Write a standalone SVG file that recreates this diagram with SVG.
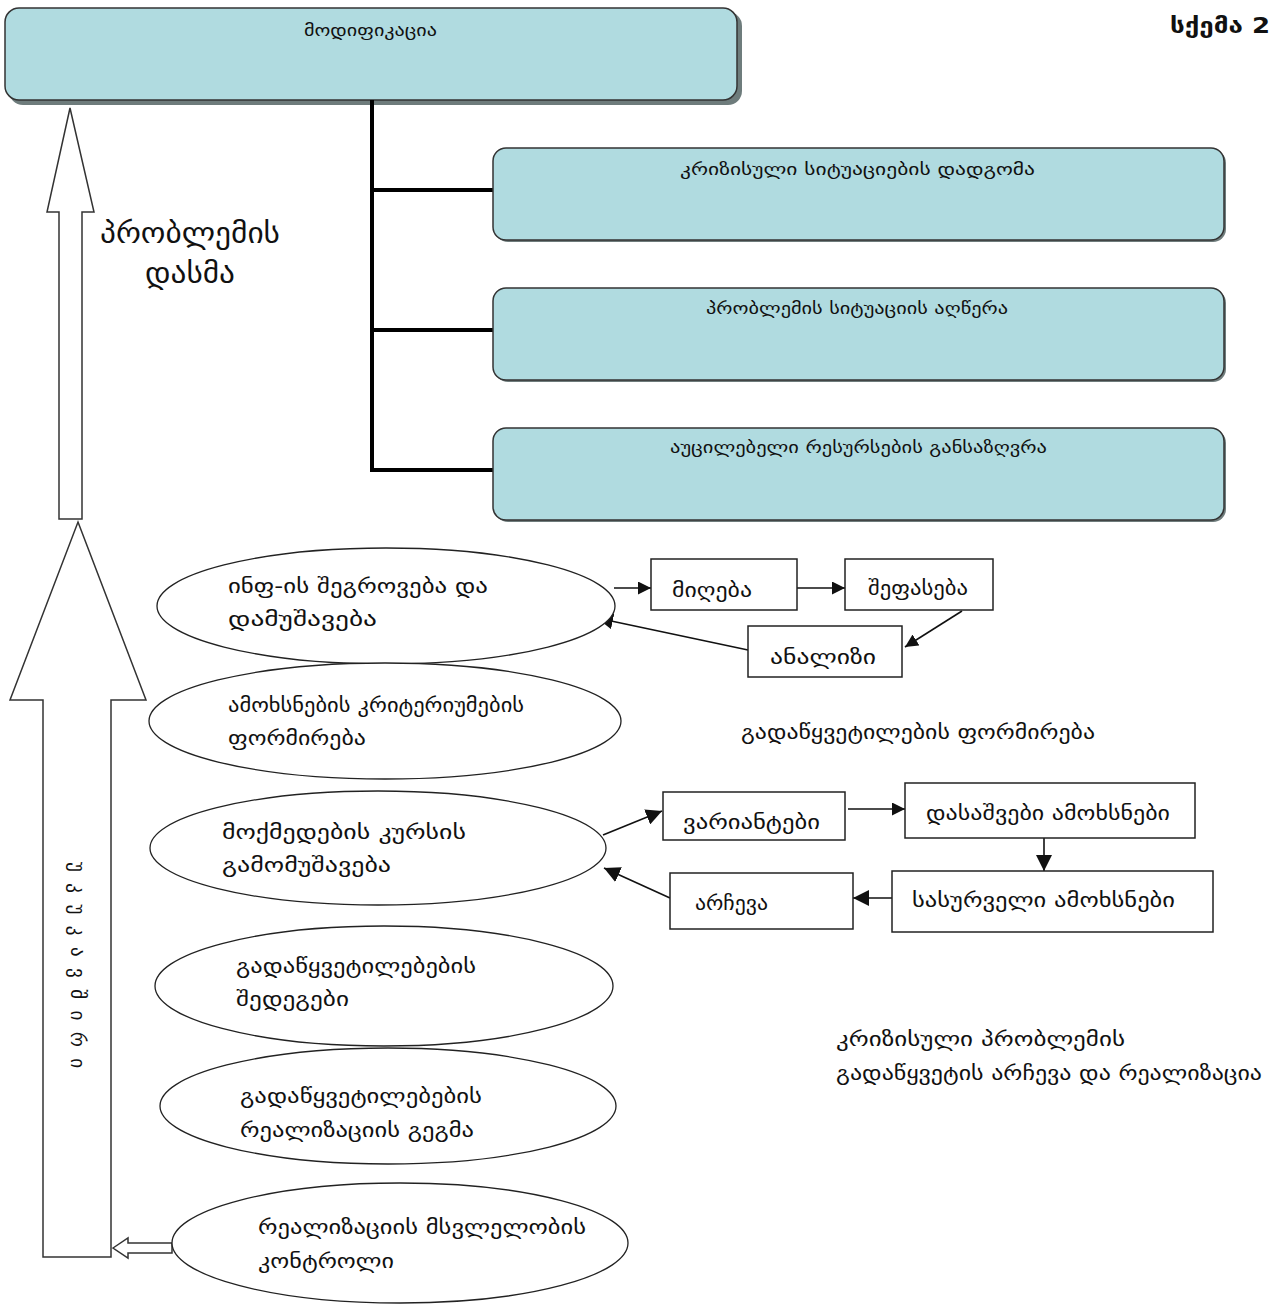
<svg xmlns="http://www.w3.org/2000/svg" width="1274" height="1305" viewBox="0 0 1274 1305">
<style>
.t{font-family:"DejaVu Sans","Noto Sans",sans-serif;fill:#111;}
.s16{font-size:16px;}
.s19{font-size:19px;}
.big{font-size:29px;}
.box{fill:#b0dbe0;stroke:#333;stroke-width:1.5;}
.shadow{fill:#6e7c7c;}
.ell{fill:#fff;stroke:#222;stroke-width:1.3;}
.rect{fill:#fff;stroke:#222;stroke-width:1.5;}
.hollow{fill:#fff;stroke:#333;stroke-width:1.5;}
.con{stroke:#111;stroke-width:1.6;fill:none;}
.bus{stroke:#000;stroke-width:4;fill:none;}
</style>
<defs>
<marker id="ah" viewBox="0 0 10 10" refX="10" refY="5" markerWidth="13" markerHeight="13" markerUnits="userSpaceOnUse" orient="auto"><path d="M0,0 L10,5 L0,10 z" fill="#111"/></marker>
<marker id="ahb" viewBox="0 0 10 10" refX="10" refY="5" markerWidth="16" markerHeight="16" markerUnits="userSpaceOnUse" orient="auto"><path d="M0,0 L10,5 L0,10 z" fill="#111"/></marker>
</defs>
<rect width="1274" height="1305" fill="#fff"/>

<text class="t" x="1170" y="33" font-size="21" font-weight="bold" textLength="100" lengthAdjust="spacingAndGlyphs">სქემა 2</text>

<g id="modification">
<rect class="shadow" x="9" y="12" width="733" height="93" rx="14"/>
<rect class="box" x="5" y="8" width="732" height="92" rx="14"/>
<text class="t s16" x="304" y="36" textLength="133" lengthAdjust="spacingAndGlyphs">მოდიფიკაცია</text>
</g>

<g id="connectors">
<path class="bus" d="M372,100 V472 M372,190 H493 M372,330 H493 M372,470 H493"/>
<line class="con" x1="614" y1="588" x2="651" y2="588" marker-end="url(#ah)"/>
<line class="con" x1="797" y1="588" x2="845" y2="588" marker-end="url(#ah)"/>
<line class="con" x1="962" y1="611" x2="905" y2="647" marker-end="url(#ah)"/>
<line class="con" x1="748" y1="650" x2="597" y2="618" marker-end="url(#ahb)"/>
<line class="con" x1="603" y1="835" x2="662" y2="811" marker-end="url(#ahb)"/>
<line class="con" x1="848" y1="809" x2="905" y2="809" marker-end="url(#ah)"/>
<line class="con" x1="1044" y1="838" x2="1044" y2="871" marker-end="url(#ahb)"/>
<line class="con" x1="892" y1="898" x2="853" y2="898" marker-end="url(#ahb)"/>
<line class="con" x1="670" y1="898" x2="604" y2="868" marker-end="url(#ahb)"/>
<path class="hollow" d="M70,108 L94,212 L82,212 L82,519 L59,519 L59,212 L47,212 Z"/>
<path class="hollow" d="M78,522 L146,700 L111,700 L111,1257 L43,1257 L43,700 L10,700 Z"/>
<path class="hollow" d="M113,1248 L128,1238 L128,1243 L172,1243 L172,1253 L128,1253 L128,1258 Z"/>
</g>

<g id="crisis">
<rect class="shadow" x="495" y="150" width="731" height="92" rx="13"/>
<rect class="box" x="493" y="148" width="731" height="92" rx="13"/>
<text class="t s16" x="680" y="175" textLength="355" lengthAdjust="spacingAndGlyphs">კრიზისული სიტუაციების დადგომა</text>
</g>
<g id="describe">
<rect class="shadow" x="495" y="290" width="731" height="92" rx="13"/>
<rect class="box" x="493" y="288" width="731" height="92" rx="13"/>
<text class="t s16" x="706" y="314" textLength="302" lengthAdjust="spacingAndGlyphs">პრობლემის სიტუაციის აღწერა</text>
</g>
<g id="resources">
<rect class="shadow" x="495" y="430" width="731" height="92" rx="13"/>
<rect class="box" x="493" y="428" width="731" height="92" rx="13"/>
<text class="t s16" x="670" y="453" textLength="377" lengthAdjust="spacingAndGlyphs">აუცილებელი რესურსების განსაზღვრა</text>
</g>

<g id="problem-label">
<text class="t big" x="100" y="243" textLength="180" lengthAdjust="spacingAndGlyphs">პრობლემის</text>
<text class="t big" x="145" y="283" textLength="90" lengthAdjust="spacingAndGlyphs">დასმა</text>
</g>

<g id="feedback-label">
<text class="t" font-size="19" transform="translate(71,862) rotate(90)" textLength="206" lengthAdjust="spacing">უკუკავშირი</text>
</g>

<g id="e1">
<ellipse class="ell" cx="386" cy="606" rx="229" ry="58"/>
<text class="t s19" x="228" y="593" textLength="260" lengthAdjust="spacingAndGlyphs">ინფ-ის შეგროვება და</text>
<text class="t s19" x="228" y="626" textLength="149" lengthAdjust="spacingAndGlyphs">დამუშავება</text>
</g>
<g id="e2">
<ellipse class="ell" cx="385" cy="721" rx="236" ry="58"/>
<text class="t s19" x="228" y="712" textLength="296" lengthAdjust="spacingAndGlyphs">ამოხსნების კრიტერიუმების</text>
<text class="t s19" x="228" y="745" textLength="138" lengthAdjust="spacingAndGlyphs">ფორმირება</text>
</g>
<g id="e3">
<ellipse class="ell" cx="378" cy="848" rx="228" ry="57"/>
<text class="t s19" x="222" y="839" textLength="244" lengthAdjust="spacingAndGlyphs">მოქმედების კურსის</text>
<text class="t s19" x="222" y="872" textLength="169" lengthAdjust="spacingAndGlyphs">გამომუშავება</text>
</g>
<g id="e4">
<ellipse class="ell" cx="384" cy="986" rx="229" ry="60"/>
<text class="t s19" x="236" y="973" textLength="240" lengthAdjust="spacingAndGlyphs">გადაწყვეტილებების</text>
<text class="t s19" x="236" y="1006" textLength="113" lengthAdjust="spacingAndGlyphs">შედეგები</text>
</g>
<g id="e5">
<ellipse class="ell" cx="388" cy="1106" rx="228" ry="58"/>
<text class="t s19" x="240" y="1103" textLength="242" lengthAdjust="spacingAndGlyphs">გადაწყვეტილებების</text>
<text class="t s19" x="240" y="1137" textLength="234" lengthAdjust="spacingAndGlyphs">რეალიზაციის გეგმა</text>
</g>
<g id="e6">
<ellipse class="ell" cx="400" cy="1243" rx="228" ry="60"/>
<text class="t s19" x="258" y="1234" textLength="328" lengthAdjust="spacingAndGlyphs">რეალიზაციის მსვლელობის</text>
<text class="t s19" x="258" y="1268" textLength="136" lengthAdjust="spacingAndGlyphs">კონტროლი</text>
</g>

<g id="receive">
<rect class="rect" x="651" y="559" width="146" height="51"/>
<text class="t s19" x="672" y="597" textLength="80" lengthAdjust="spacingAndGlyphs">მიღება</text>
</g>
<g id="evaluate">
<rect class="rect" x="845" y="559" width="148" height="51"/>
<text class="t s19" x="868" y="595" textLength="100" lengthAdjust="spacingAndGlyphs">შეფასება</text>
</g>
<g id="analysis">
<rect class="rect" x="748" y="626" width="154" height="51"/>
<text class="t s19" x="770" y="664" textLength="106" lengthAdjust="spacingAndGlyphs">ანალიზი</text>
</g>

<text class="t s19" x="741" y="739" textLength="354" lengthAdjust="spacingAndGlyphs">გადაწყვეტილების ფორმირება</text>

<g id="variants">
<rect class="rect" x="663" y="792" width="182" height="48"/>
<text class="t s19" x="683" y="829" textLength="137" lengthAdjust="spacingAndGlyphs">ვარიანტები</text>
</g>
<g id="admissible">
<rect class="rect" x="905" y="783" width="290" height="55"/>
<text class="t s19" x="926" y="820" textLength="244" lengthAdjust="spacingAndGlyphs">დასაშვები ამოხსნები</text>
</g>
<g id="desired">
<rect class="rect" x="892" y="871" width="321" height="61"/>
<text class="t s19" x="912" y="907" textLength="263" lengthAdjust="spacingAndGlyphs">სასურველი ამოხსნები</text>
</g>
<g id="choice">
<rect class="rect" x="670" y="873" width="183" height="56"/>
<text class="t s19" x="695" y="910" textLength="73" lengthAdjust="spacingAndGlyphs">არჩევა</text>
</g>

<text class="t s19" x="836" y="1046" textLength="289" lengthAdjust="spacingAndGlyphs">კრიზისული პრობლემის</text>
<text class="t s19" x="836" y="1080" textLength="426" lengthAdjust="spacingAndGlyphs">გადაწყვეტის არჩევა და რეალიზაცია</text>
</svg>
